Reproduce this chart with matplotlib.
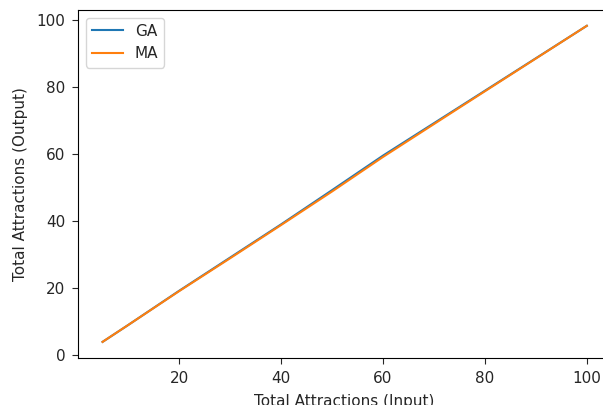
import matplotlib
matplotlib.use("Agg")
import matplotlib.pyplot as plt

# total attractions used as input
attractions_in = [5, 10, 20, 30, 40, 50, 60, 75, 100]
# total attractions reported by each method
ga_out = [4.0, 9.0, 19.2, 29.1, 39.0, 49.2, 59.5, 74.0, 98.2]
ma_out = [4.0, 9.0, 19.1, 28.9, 38.8, 48.8, 59.1, 73.8, 98.2]

plt.rcParams["font.size"] = 11
plt.rcParams["text.color"] = "#262626"
plt.rcParams["axes.labelcolor"] = "#262626"
plt.rcParams["xtick.color"] = "#262626"
plt.rcParams["ytick.color"] = "#262626"

fig = plt.figure(figsize=(6.03, 4.05), dpi=100)
ax = fig.add_axes([0.1299, 0.1168, 0.8834, 0.8585])

ax.plot(attractions_in, ga_out, label="GA")
ax.plot(attractions_in, ma_out, label="MA")

ax.tick_params(length=4.5, pad=5)
ax.set_xlabel("Total Attractions (Input)", labelpad=6)
ax.set_ylabel("Total Attractions (Output)", labelpad=6)
ax.legend(loc="upper left")

fig.savefig("out.png", dpi=100)
